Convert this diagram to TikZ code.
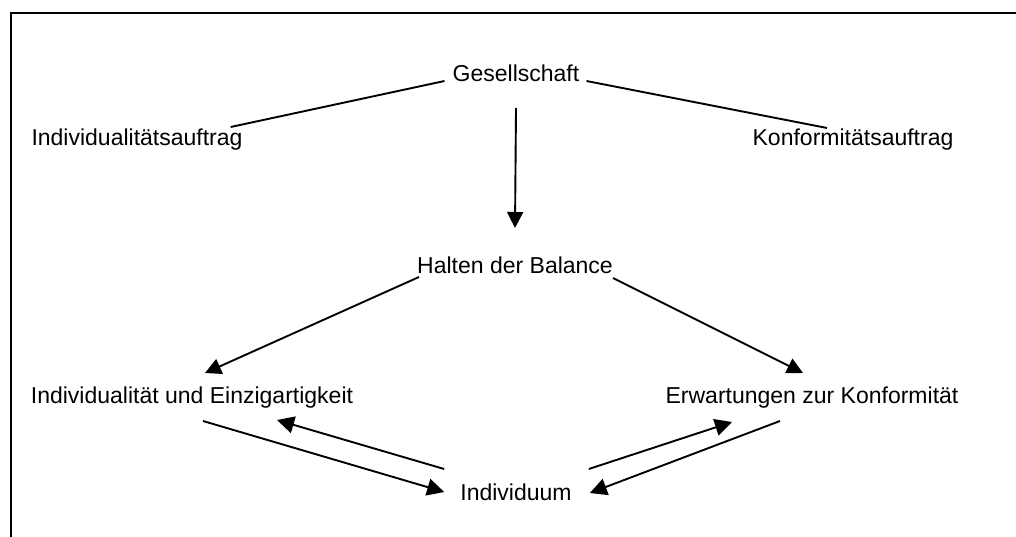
\documentclass[tikz,border=0pt]{standalone}
\usepackage{fontspec}
\setmainfont{Liberation Sans}
\usepackage{tikz}
\usetikzlibrary{
  arrows.meta
}

\begin{document}
\begin{tikzpicture}[%Grundeinstellungen
          x=1pt,y=-1pt,
          begriff/.style={
              inner sep=0pt,
              anchor=base,
              font=\fontsize{23}{27}\selectfont
            },linie/.style={
              line width=1.9pt
            },pfeil/.style={
              line width=1.9pt,
              -{Triangle[width=#1,length=#1]}
            },pfeil/.default=16pt
        ]
        \useasboundingbox (0,0) rectangle (1016,537);

        % Rahmen (oben und links)
        \draw[line width=2.2pt] (1016,13) -- (11,13) -- (11,537);

        % Begriffe
        \node[begriff] (gesell) at (516,82) {Gesellschaft};
        \node[begriff] (indauf) at (137,146) {Individualitätsauftrag};
        \node[begriff] (konauf) at (853,146) {Konformitätsauftrag};
        \node[begriff] (halten) at (515,273) {Halten der Balance};
        \node[begriff] (indein) at (192,403) {Individualität und Einzigartigkeit};
        \node[begriff] (erwart) at (812,403) {Erwartungen zur Konformität};
        \node[begriff] (indiv) at (516,500) {Individuum};

        % Aufträge der Gesellschaft
        \draw[linie] ([xshift=-8pt,yshift=1pt]gesell.base west)
          -- ([xshift=-12pt,yshift=19pt]indauf.base east);
        \draw[linie] ([xshift=7pt,yshift=1pt]gesell.base east)
          -- ([xshift=-26pt,yshift=18pt]konauf.base);
        \draw[pfeil] ([yshift=-26pt]gesell.base)
          -- ([yshift=45pt]halten.base);

        % Balance
        \draw[pfeil] ([xshift=2pt,yshift=-4pt]halten.base west)
          -- ([xshift=13pt,yshift=30pt]indein.base);
        \draw[pfeil] ([yshift=-5pt]halten.base east)
          -- ([xshift=-9pt,yshift=30pt]erwart.base);

        % Wechselwirkung mit dem Individuum
        \draw[pfeil=17pt] ([xshift=11pt,yshift=-18pt]indein.base)
          -- ([xshift=-16pt,yshift=8pt]indiv.base west);
        \draw[pfeil=17pt] ([xshift=-16pt,yshift=31pt]indiv.base west)
          -- ([xshift=85pt,yshift=-17pt]indein.base);
        \draw[pfeil=17pt] ([xshift=17pt,yshift=31pt]indiv.base east)
          -- ([xshift=-80pt,yshift=-19pt]erwart.base);
        \draw[pfeil=17pt] ([xshift=-32pt,yshift=-18pt]erwart.base)
          -- ([xshift=18pt,yshift=7pt]indiv.base east);
      \end{tikzpicture}
\end{document}
